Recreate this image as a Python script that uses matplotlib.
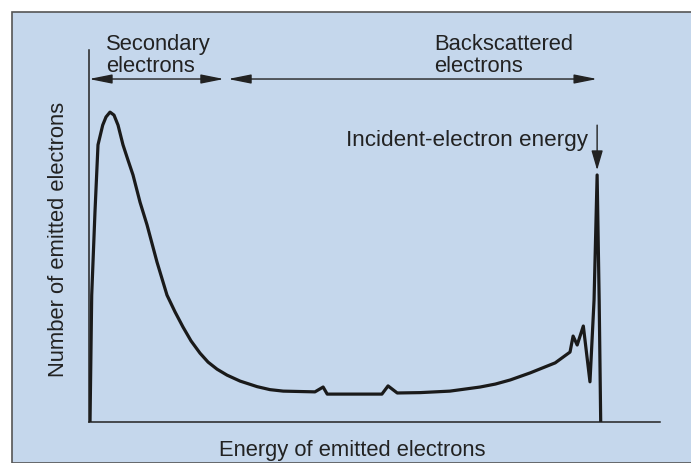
import numpy as np
import matplotlib
matplotlib.use("Agg")
import matplotlib.pyplot as plt
from matplotlib.patches import Rectangle

plt.rcParams['font.family'] = ['Liberation Sans', 'DejaVu Sans']

# Energy spectrum of emitted electrons (arbitrary units, incident energy = 100)
energy = [0.2, 0.53, 1.17, 1.76, 2.68, 3.33, 4.11, 4.89, 5.68, 6.65, 7.63,
          8.61, 9.98, 11.35, 13.3, 15.26, 16.83, 18.4, 19.96, 21.72, 23.29,
          25.05, 27.0, 29.55, 32.9, 35.4, 38.0, 44.2, 45.8, 46.6, 57.3,
          58.5, 60.3, 64.8, 70.6, 76.5, 79.5, 82.4, 86.3, 89.2, 91.2, 94.1,
          94.7, 95.5, 96.7, 98.0, 98.8, 99.4, 99.8, 100.1]
counts = [0, 34.1, 56.5, 74.5, 79.8, 82.0, 83.3, 82.5, 79.8, 74.5, 70.4,
          66.4, 59.1, 53.0, 43.0, 34.1, 29.6, 25.5, 21.8, 18.5, 16.1,
          14.2, 12.6, 11.0, 9.5, 8.7, 8.3, 8.1, 9.4, 7.5, 7.5,
          9.7, 7.8, 7.9, 8.3, 9.4, 10.2, 11.3, 13.2, 14.8, 15.9, 18.8,
          23.1, 20.7, 25.8, 10.8, 32.8, 66.4, 32.8, 0]

secondary_range = [0, 26.4]
backscatter_range = [27.2, 99.4]
incident_energy = 99.4

W, H = 691, 463
fig = plt.figure(figsize=(W / 100, H / 100), dpi=100)
fig.patch.set_facecolor("white")
bg = "#c5d7ec"
fig.patches.append(Rectangle((11.5 / W, 0), 1, (H - 12) / H, transform=fig.transFigure,
                             facecolor=bg, edgecolor="#555555", linewidth=1.2,
                             zorder=-5))

ax = fig.add_axes([89 / W, (H - 422) / H, (660 - 89) / W, (422 - 50) / H])
ax.set_facecolor("none")
ax.plot(energy, counts, color="#1a1a1a", linewidth=2.3, solid_joinstyle="round")
ax.set_xlim(0, 111.7)
ax.set_ylim(0, 100)
for s in ["top", "right"]:
    ax.spines[s].set_visible(False)
for s in ["left", "bottom"]:
    ax.spines[s].set_color("#222222")
    ax.spines[s].set_linewidth(1.1)
ax.set_xticks([])
ax.set_yticks([])

arrow = dict(arrowstyle="<|-|>,head_length=1.4,head_width=0.28", color="#222222",
             lw=1.0, shrinkA=0, shrinkB=0)
ax.annotate("", xy=(secondary_range[0], 92.2), xytext=(secondary_range[1], 92.2),
            arrowprops=arrow, annotation_clip=False)
ax.annotate("", xy=(backscatter_range[0], 92.2), xytext=(backscatter_range[1], 92.2),
            arrowprops=arrow, annotation_clip=False)
ax.annotate("", xy=(incident_energy, 67.7), xytext=(incident_energy, 79.8),
            arrowprops=dict(arrowstyle="-|>,head_length=1.2,head_width=0.35",
                            color="#222222", lw=1.0, shrinkA=0, shrinkB=0))

tc = "#222222"
fs = 15.8


def ftext(px, py, s, size=fs, **kw):
    fig.text(px / W, 1 - py / H, s, fontsize=size, color=tc, **kw)


ftext(106, 50, "Secondary", ha="left", va="baseline")
ftext(106, 72, "electrons", ha="left", va="baseline")
ftext(434, 50, "Backscattered", ha="left", va="baseline")
ftext(434, 72, "electrons", ha="left", va="baseline")
ftext(588, 146, "Incident-electron energy", size=16.2, ha="right", va="baseline")
ftext(219, 456, "Energy of emitted electrons", ha="left", va="baseline")
ftext(59, 377, "Number of emitted electrons", ha="center", va="bottom", rotation=90)

fig.savefig("out.png", dpi=100)
